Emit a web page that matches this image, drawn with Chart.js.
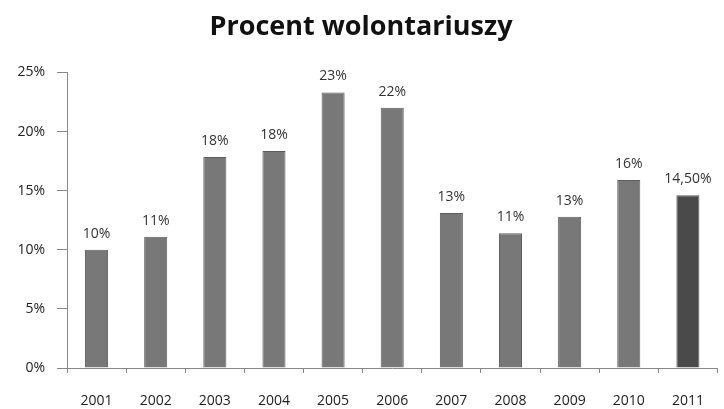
<!DOCTYPE html>
<html>
<head>
<meta charset="utf-8">
<script src="https://cdn.jsdelivr.net/npm/chart.js@4/dist/chart.umd.min.js"></script>
<style>
  html, body { margin: 0; padding: 0; background: #fff; }
  #wrap { width: 724px; height: 409px; }
</style>
</head>
<body>
<div id="wrap"><canvas id="myChart" width="724" height="409"></canvas></div>
<script>
const years = ['2001','2002','2003','2004','2005','2006','2007','2008','2009','2010','2011']
const values = [10, 11.1, 17.85, 18.35, 23.3, 22, 13.1, 11.4, 12.8, 15.9, 14.6]
const value_labels = ['10%','11%','18%','18%','23%','22%','13%','11%','13%','16%','14,50%']
const bar_colors = ['#787878','#787878','#787878','#787878','#787878','#787878','#787878','#787878','#787878','#787878','#4a4a4a']
const y_ticks = [0, 5, 10, 15, 20, 25]

const font_family = "'Open Sans', 'DejaVu Sans', sans-serif"

// etykiety nad słupkami
const barLabels = {
  id: 'barLabels',
  afterDatasetsDraw(chart) {
    const c = chart.ctx
    const meta = chart.getDatasetMeta(0)
    c.save()
    c.font = '14px ' + font_family
    c.fillStyle = '#333'
    c.textAlign = 'center'
    c.textBaseline = 'bottom'
    meta.data.forEach((bar, i) => {
      c.fillText(value_labels[i], bar.x, bar.y - 9)
    })
    c.restore()
  }
}

const config = {
  type: 'bar',
  data: {
    labels: years,
    datasets: [{
      data: values,
      backgroundColor: bar_colors,
      borderColor: '#5e5e5e',
      borderWidth: 1,
      barPercentage: 0.39,
      categoryPercentage: 1
    }]
  },
  plugins: [barLabels],
  options: {
    responsive: false,
    animation: false,
    layout: { padding: { left: 0, right: 2, top: 4, bottom: 0 } },
    plugins: {
      legend: { display: false },
      tooltip: { enabled: false },
      title: {
        display: true,
        text: 'Procent wolontariuszy',
        color: '#111',
        font: { family: font_family, size: 27, weight: 'bold' },
        padding: { top: 7, bottom: 29 }
      }
    },
    scales: {
      x: {
        offset: true,
        afterFit: axis => { axis.height = 41 },
        grid: { offset: true, drawOnChartArea: false, drawTicks: true, tickLength: 5, color: '#888' },
        border: { color: '#888' },
        ticks: { color: '#222', font: { family: font_family, size: 14 }, padding: 20, maxRotation: 0 }
      },
      y: {
        min: 0,
        max: 25,
        afterBuildTicks: axis => { axis.ticks = y_ticks.map(v => ({ value: v })) },
        afterFit: axis => { axis.width = 67 },
        grid: { drawOnChartArea: false, drawTicks: true, tickLength: 10, color: '#888' },
        border: { color: '#888' },
        ticks: {
          color: '#222',
          font: { family: font_family, size: 14 },
          padding: 12,
          callback: v => v + '%'
        }
      }
    }
  }
}

const myChart = new Chart(document.getElementById('myChart'), config)
</script>
</body>
</html>
